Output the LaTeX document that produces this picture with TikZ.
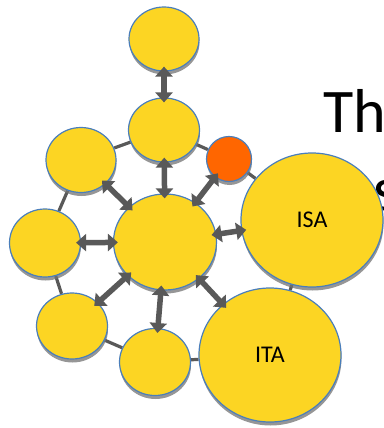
\documentclass[tikz,border=0pt]{standalone}
\usepackage{fontspec}
\setmainfont{Carlito}
\usetikzlibrary{arrows.meta, shapes.geometric, shadows, backgrounds}

\definecolor{sunyellow}{HTML}{FCD523}
\definecolor{rimblue}{HTML}{4A7EBB}
\definecolor{linkgrey}{HTML}{595959}
\definecolor{hotorange}{HTML}{FF6600}

\begin{document}
\begin{tikzpicture}[x=1pt, y=-1pt,
        blob/.style={ellipse, draw=rimblue, line width=1.2pt, fill=sunyellow, inner sep=0pt,
            drop shadow={shadow xshift=0.5pt, shadow yshift=-3.5pt, fill=black!55, opacity=0.75},
            font=\fontsize{24}{28}\selectfont},
        ring/.style={draw=linkgrey, line width=3.2pt},
        link/.style={draw=linkgrey, line width=5.5pt, {Triangle[length=10pt,width=17pt]}-{Triangle[length=10pt,width=17pt]},
            shorten <=-5pt, shorten >=-5pt}]
    \useasboundingbox (0,0) rectangle (383,428);

    % Kola
    \node[blob, minimum width=70pt, minimum height=64pt] (top) at (164,39) {};
    \node[blob, minimum width=71pt, minimum height=64pt] (topc) at (164,130) {};
    \node[blob, fill=hotorange, minimum width=45pt, minimum height=45pt] (warn) at (229,159) {};
    \node[blob, minimum width=70pt, minimum height=65pt] (ltop) at (81,160) {};
    \node[blob, minimum width=71pt, minimum height=68pt] (left) at (45,243) {};
    \node[blob, minimum width=103pt, minimum height=96pt] (hub) at (165,242) {};
    \node[blob, minimum width=142pt, minimum height=134pt] (isa) at (312,220) {ISA};
    \node[blob, minimum width=71pt, minimum height=66pt] (blft) at (72,326) {};
    \node[blob, minimum width=71pt, minimum height=67pt] (bot) at (155,362) {};
    \node[blob, minimum width=142pt, minimum height=134pt] (ita) at (270,355) {ITA};

    % Tytul
    \node[anchor=base west, inner sep=0pt, font=\fontsize{62}{74}\selectfont] (title) at (323,132) {Th};

    % Pierscien
    \begin{scope}[on background layer]
        \node[anchor=base west, inner sep=0pt, font=\fontsize{62}{74}\selectfont] (title2) at (373,210) {s};
        \path (topc) edge[ring] (ltop);
        \path (topc) edge[ring] (warn);
        \path (warn) edge[ring] (isa);
        \path (isa) edge[ring] (ita);
        \path (ltop) edge[ring] (left);
        \path (left) edge[ring] (blft);
        \path (blft) edge[ring] (bot);
        \path (bot) edge[ring] (ita);
    \end{scope}

    % Strzalki
    \path (top) edge[link] (topc);
    \path (hub) edge[link] (topc);
    \path (hub) edge[link] (warn);
    \path (hub) edge[link] (isa);
    \path (hub) edge[link] (ita);
    \path (hub) edge[link] (bot);
    \path (hub) edge[link] (blft);
    \path (hub) edge[link] (left);
    \path (hub) edge[link] (ltop);
\end{tikzpicture}
\end{document}
